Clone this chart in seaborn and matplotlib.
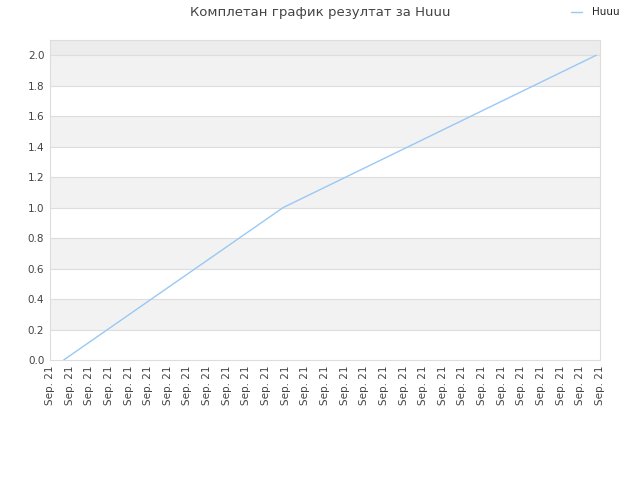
import numpy as np
import pandas as pd
import seaborn as sns
import matplotlib
matplotlib.use("Agg")
import matplotlib.pyplot as plt

# data
x_pos = [0.7, 11.87, 27.81]
y_val = [0.0, 1.0, 2.0]
tick_labels = ["Sep. 21"] * 29
series_name = "Huuu"
title = "Комплетан график резултат за Huuu"

df = pd.DataFrame({"x": x_pos, "y": y_val, "name": series_name})

sns.set_style("white")
plt.rcParams['font.family'] = ['DejaVu Sans']

fig = plt.figure(figsize=(6.4, 4.8), dpi=100)
ax = fig.add_axes([0.078, 0.25, 0.8595, 0.6667])

# alternating bands
for i in range(10):
    if i % 2 == 1:
        ax.axhspan(i * 0.2, (i + 1) * 0.2, color="#f2f2f2", zorder=0, lw=0)
ax.axhspan(2.0, 2.1, color="#ececec", zorder=0, lw=0)
for v in np.arange(0.2, 2.01, 0.2):
    ax.axhline(v, color="#dddddd", lw=0.8, zorder=1)

sns.lineplot(data=df, x="x", y="y", ax=ax, color="#99c8f5", lw=1.0,
             label=series_name, zorder=3)

ax.set_xlim(0, 28)
ax.set_ylim(0, 2.1)
ax.set_yticks(np.arange(0, 2.01, 0.2))
ax.set_yticklabels([f"{v:.1f}" for v in np.arange(0, 2.01, 0.2)])
ax.set_xticks(range(len(tick_labels)))
ax.set_xticklabels(tick_labels, rotation=90)
ax.tick_params(axis="both", labelsize=7.5, colors="#444444", length=0, pad=4)
ax.set_xlabel("")
ax.set_ylabel("")
for s in ax.spines.values():
    s.set_color("#dddddd")
    s.set_linewidth(0.8)

fig.text(0.5, 0.987, title, ha="center", va="top", fontsize=9.5, color="#444444")
leg = ax.legend(loc="upper right", bbox_to_anchor=(0.983, 1.004), bbox_transform=fig.transFigure,
                frameon=False, fontsize=7.5, handlelength=1.0, handletextpad=1.0)
for t in leg.get_texts():
    t.set_color("#222222")

fig.savefig("out.png", dpi=100)
